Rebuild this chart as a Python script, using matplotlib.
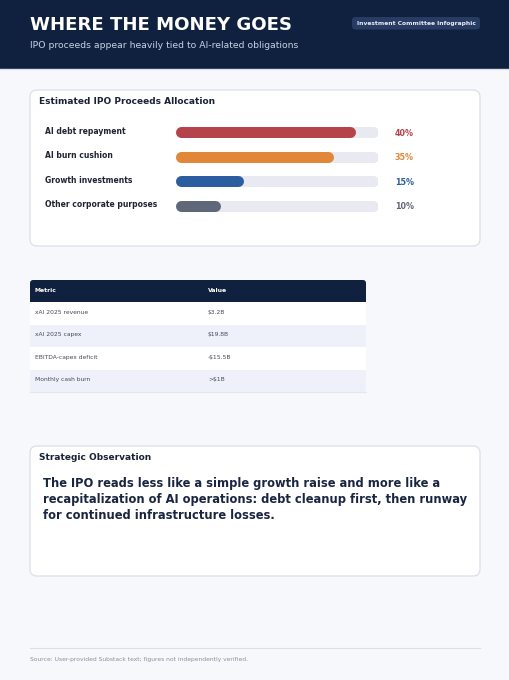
import matplotlib
matplotlib.use("Agg")
import matplotlib.pyplot as plt
from matplotlib.patches import FancyBboxPatch, Rectangle

# data
title = "WHERE THE MONEY GOES"
subtitle = "IPO proceeds appear heavily tied to AI-related obligations"
badge = "Investment Committee Infographic"
alloc_labels = ["AI debt repayment", "AI burn cushion", "Growth investments", "Other corporate purposes"]
alloc_values = [40, 35, 15, 10]
alloc_colors = ["#b5434a", "#e0873a", "#2a5ea0", "#5f6878"]
alloc_max = 45
table_cols = ["Metric", "Value"]
table_metrics = ["xAI 2025 revenue", "xAI 2025 capex", "EBITDA-capex deficit", "Monthly cash burn"]
table_values = ["$3.2B", "$19.8B", "-$15.5B", ">$1B"]
observation = ("The IPO reads less like a simple growth raise and more like a\n"
               "recapitalization of AI operations: debt cleanup first, then runway\n"
               "for continued infrastructure losses.")
source = "Source: User-provided Substack text; figures not independently verified."

W, H = 510, 680
NAVY = "#10213f"
BG = "#f7f8fc"

fig = plt.figure(figsize=(W/100, H/100), dpi=100, facecolor=BG)
ax = fig.add_axes([0, 0, 1, 1])
ax.set_xlim(0, W)
ax.set_ylim(H, 0)
ax.axis("off")

# header
ax.add_patch(Rectangle((0, 0), W, 68, color=NAVY, zorder=1))
ax.plot([0, W], [68.5, 68.5], color="#dfe2ec", lw=1, zorder=1)
ax.text(30, 25, title, color="white", fontsize=13.1, fontweight="bold", va="center", zorder=3)
ax.text(30, 45, subtitle, color="#c9d1e2", fontsize=6.7, va="center", zorder=3)
ax.add_patch(FancyBboxPatch((352, 17), 128, 12.5, boxstyle="round,pad=0,rounding_size=3.5",
                            fc="#283b63", ec="none", zorder=2))
ax.text(416, 23.3, badge, color="#e8ecf5", fontsize=4.3, fontweight="bold", ha="center", va="center", zorder=3)

def card(x0, y0, x1, y1):
    ax.add_patch(FancyBboxPatch((x0, y0), x1 - x0, y1 - y0, boxstyle="round,pad=0,rounding_size=7",
                                fc="white", ec="#dcdfe9", lw=0.9, zorder=1))

# allocation card
card(30, 90, 480, 246)
ax.text(39, 102, "Estimated IPO Proceeds Allocation", color="#1a2238", fontsize=6.5,
        fontweight="bold", va="center", zorder=3)

bx0, bx1 = 176, 378
bar_ax = fig.add_axes([bx0/W, 1 - 218/H, (bx1 - bx0)/W, (218 - 120)/H])
bar_ax.set_xlim(0, alloc_max)
bar_ax.set_ylim(len(alloc_values) - 0.5, -0.5)
bar_ax.axis("off")
bar_ax.patch.set_alpha(0)
thick = 11
r = (thick/2) * alloc_max / (bx1 - bx0)
for i, (lab, v, c) in enumerate(zip(alloc_labels, alloc_values, alloc_colors)):
    bar_ax.plot([r, alloc_max - r], [i, i], color="#e8e9f1", lw=thick*0.72, solid_capstyle="round")
    bar_ax.plot([r, v - r], [i, i], color=c, lw=thick*0.72, solid_capstyle="round")
    yy = 132.5 + i*24.6
    ax.text(45, yy - 1.5, lab, color="#1f2433", fontsize=5.5, fontweight="bold", va="center", zorder=3)
    ax.text(395, yy + 0.5, f"{v}%", color=c, fontsize=5.8, fontweight="bold", va="center", zorder=3)

# table
tx0, tx1 = 30, 366
hy0, hy1 = 280, 302
row_h = 22.5
ax.add_patch(FancyBboxPatch((tx0, hy0), tx1 - tx0, hy1 - hy0, boxstyle="round,pad=0,rounding_size=3",
                            fc=NAVY, ec="none", zorder=2))
ax.add_patch(Rectangle((tx0, hy1 - 4), tx1 - tx0, 4, fc=NAVY, ec="none", zorder=2))
ax.text(35, 290, table_cols[0], color="white", fontsize=4.4, fontweight="bold", va="center", zorder=3)
ax.text(208, 290, table_cols[1], color="white", fontsize=4.4, fontweight="bold", va="center", zorder=3)
for i, (m, v) in enumerate(zip(table_metrics, table_values)):
    ry = hy1 + i*row_h
    ax.add_patch(Rectangle((tx0, ry), tx1 - tx0, row_h, fc="white" if i % 2 == 0 else "#eef1fa",
                           ec="none", zorder=1))
    ax.text(35, ry + row_h/2 - 1, m, color="#444956", fontsize=4.3, va="center", zorder=3)
    ax.text(208, ry + row_h/2 - 1, v, color="#444956", fontsize=4.3, va="center", zorder=3)
ax.plot([tx0, tx1], [hy1 + 4*row_h, hy1 + 4*row_h], color="#e3e6ef", lw=0.8, zorder=2)

# observation card
card(30, 446, 480, 576)
ax.text(39, 458, "Strategic Observation", color="#1a2238", fontsize=6.5, fontweight="bold",
        va="center", zorder=3)
ax.text(43, 476.5, observation, color="#1a2540", fontsize=8.3, fontweight="bold", va="top",
        linespacing=1.33, zorder=3)

# footer
ax.plot([30, 480], [648, 648], color="#dcdfe8", lw=0.8)
ax.text(30, 660, source, color="#8a8f9c", fontsize=4.3, va="center")

fig.savefig("out.png", dpi=100, facecolor=BG)
